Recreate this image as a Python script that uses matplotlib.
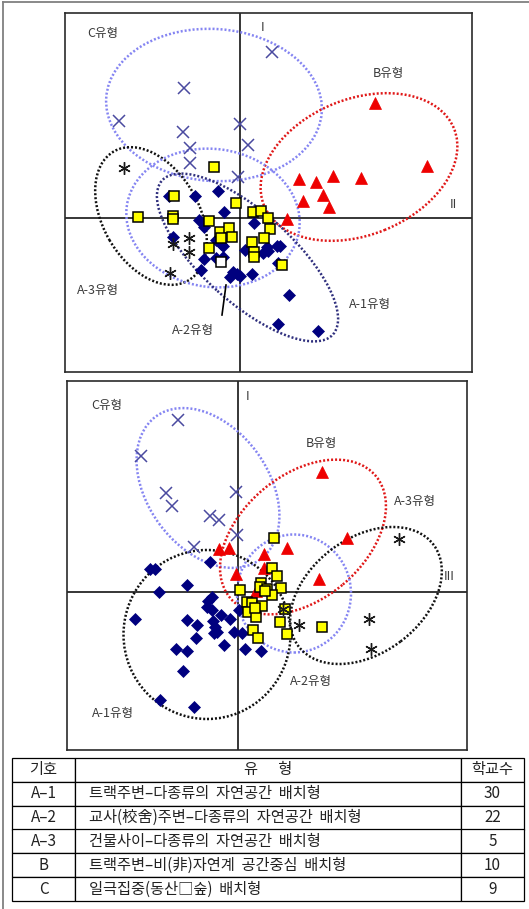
import matplotlib
matplotlib.use("Agg")
import matplotlib.pyplot as plt
from matplotlib.patches import Ellipse

plt.rcParams['font.family'] = ['Noto Sans CJK KR', 'DejaVu Sans']

# ---------- panel 1 : axis I - II ----------
p1_a1_x = [-0.71, -0.45, -0.22, -0.16, -0.41, -0.36, 0.14, -0.67, -0.24, -0.17,
           0.05, 0.27, 0.37, 0.40, 0.23, -0.36, -0.24, -0.17, -0.39, -0.07,
           -0.10, -0.03, 0.12, 0.38, 0.49, 0.38, 0.78, 0.28, -0.19, 0.00]
p1_a1_y = [0.22, 0.22, 0.27, 0.06, -0.02, -0.09, -0.05, -0.19, -0.22, -0.28,
           -0.32, -0.29, -0.28, -0.28, -0.35, -0.41, -0.40, -0.39, -0.52, -0.54,
           -0.59, -0.56, -0.56, -0.45, -0.77, -1.06, -1.13, -0.33, -0.26, -0.58]
p1_a2_x = [-0.26, -0.66, -0.04, -1.02, -0.67, -0.67, -0.31, 0.13, 0.21, 0.28, 0.30,
           -0.20, -0.11, -0.19, -0.08, 0.12, 0.24, 0.14, 0.14, -0.31, 0.42, -0.19]
p1_a2_y = [0.51, 0.22, 0.15, 0.01, 0.02, -0.01, -0.03, 0.06, 0.07, 0.00, -0.11,
           -0.14, -0.10, -0.20, -0.19, -0.24, -0.20, -0.34, -0.39, -0.30, -0.47, -0.44]
p1_a3_x = [-1.16, -0.51, -0.67, -0.51, -0.70]
p1_a3_y = [0.50, -0.20, -0.26, -0.34, -0.55]
p1_b_x = [1.35, 1.87, 0.59, 0.76, 0.93, 1.21, 0.63, 0.83, 0.89, 0.47]
p1_b_y = [1.15, 0.52, 0.39, 0.36, 0.42, 0.40, 0.17, 0.23, 0.11, -0.01]
p1_c_x = [0.32, -0.56, -1.21, -0.57, 0.00, -0.50, 0.08, -0.50, -0.02]
p1_c_y = [1.66, 1.30, 0.97, 0.86, 0.94, 0.70, 0.73, 0.55, 0.41]

# group ellipses: centre x, centre y, width, height, angle
p1_ellipses = {
    'C': (-0.26, 1.13, 2.16, 1.52, -4),
    'B': (1.19, 0.51, 2.05, 1.36, 22),
    'A-3': (-0.89, 0.02, 1.49, 0.96, -60),
    'A-2': (-0.27, 0.00, 1.74, 1.38, -8),
    'A-1': (0.075, -0.395, 2.30, 0.90, -42),
}
p1_labels = [('C유형', -1.37, 1.85), ('B유형', 1.48, 1.45), ('A-3유형', -1.42, -0.72),
             ('A-1유형', 1.30, -0.86), ('A-2유형', -0.47, -1.12),
             ('I', 0.23, 1.91), ('II', 2.13, 0.14)]

# ---------- panel 2 : axis I - III ----------
p2_a1_x = [-0.88, -0.83, -0.28, -0.51, -0.79, -0.26, -0.30, -0.26, -0.17, -0.08,
           -1.03, -0.51, -0.25, -0.41, -0.23, -0.24, -0.04, 0.04, -0.42, -0.14,
           -0.62, -0.51, 0.07, 0.23, -0.55, -0.78, -0.44, 0.01, -0.31, -0.21]
p2_a1_y = [0.23, 0.23, 0.30, 0.07, 0.00, -0.05, -0.09, -0.18, -0.23, -0.27,
           -0.27, -0.28, -0.29, -0.33, -0.35, -0.41, -0.40, -0.41, -0.46, -0.53,
           -0.57, -0.59, -0.57, -0.59, -0.79, -1.08, -1.15, -0.18, -0.15, -0.40]
p2_a2_x = [0.36, 0.34, 0.39, 0.02, 0.23, 0.22, 0.29, 0.43, 0.34, 0.09, 0.14,
           0.24, 0.10, 0.18, 0.47, 0.42, 0.15, 0.20, 0.49, 0.84, 0.17, 0.27]
p2_a2_y = [0.54, 0.24, 0.16, 0.02, 0.09, 0.05, 0.03, 0.04, -0.03, -0.10, -0.11,
           -0.14, -0.20, -0.25, -0.17, -0.30, -0.38, -0.46, -0.42, -0.35, -0.16, 0.01]
p2_a3_x = [1.61, 1.31, 1.33, 0.61, 0.45]
p2_a3_y = [0.53, -0.27, -0.57, -0.33, -0.17]
p2_b_x = [0.84, 1.09, -0.19, -0.09, 0.49, 0.26, 0.26, -0.02, 0.81, 0.18]
p2_b_y = [1.20, 0.54, 0.43, 0.44, 0.44, 0.38, 0.24, 0.18, 0.13, 0.01]
p2_c_x = [-0.60, -0.97, -0.72, -0.66, -0.02, -0.28, -0.19, -0.01, -0.44]
p2_c_y = [1.72, 1.36, 0.99, 0.86, 1.00, 0.76, 0.72, 0.57, 0.45]

p2_ellipses = {
    'C': (-0.30, 1.04, 1.77, 1.21, -54),
    'B': (0.65, 0.55, 1.90, 1.24, 40),
    'A-2': (0.56, -0.015, 1.14, 1.18, 0),
    'A-3': (1.28, -0.035, 1.69, 1.15, 37),
    'A-1': (-0.31, -0.425, 1.67, 1.69, 0),
}
p2_labels = [('C유형', -1.31, 1.87), ('I', 0.10, 1.96), ('B유형', 0.83, 1.49),
             ('A-3유형', 1.77, 0.90), ('III', 2.11, 0.15), ('A-2유형', 0.73, -0.89),
             ('A-1유형', -1.25, -1.21)]

# ---------- table ----------
tbl_head = ['기호', '유      형', '학교수']
tbl_code = ['A–1', 'A–2', 'A–3', 'B', 'C']
tbl_type = ['트랙주변–다종류의  자연공간  배치형',
            '교사(校舍)주변–다종류의  자연공간  배치형',
            '건물사이–다종류의  자연공간  배치형',
            '트랙주변–비(非)자연계  공간중심  배치형',
            '일극집중(동산□숲)  배치형']
tbl_count = [30, 22, 5, 10, 9]

marker_style = {
    'A-1': dict(marker='D', ms=6.5, mfc='#00007f', mec='#00007f', mew=0.5),
    'A-2': dict(marker='s', ms=7.5, mfc='#ffff00', mec='black', mew=1.1),
    'A-3': dict(marker=(6, 2, 0), ms=9, mfc='black', mec='#1a1a1a', mew=1.0),
    'B': dict(marker='^', ms=8.5, mfc='#ee0000', mec='#ee0000', mew=0.5),
    'C': dict(marker='x', ms=8, mfc='#4a4aa0', mec='#4a4aa0', mew=1.1),
}
LIGHT = '#8585f2'
p1_ell_color = {'C': LIGHT, 'B': '#e01818', 'A-3': '#111111', 'A-2': LIGHT, 'A-1': '#30307e'}
p2_ell_color = {'C': LIGHT, 'B': '#e01818', 'A-3': '#111111', 'A-2': LIGHT, 'A-1': '#111111'}

W, H = 529, 909
fig = plt.figure(figsize=(W / 100, H / 100), dpi=100)

# page frame and table live on a full-figure axes
bg = fig.add_axes([0, 0, 1, 1])
bg.set_xlim(0, W)
bg.set_ylim(H, 0)
bg.axis('off')
bg.plot([3, W], [2, 2], color='#808080', lw=1.3)
bg.plot([3, 3], [2, H], color='#808080', lw=1.3)


def draw_panel(rect, xlim, ylim, groups, ellipses, colors, labels, white_sq=None):
    ax = fig.add_axes(rect)
    ax.set_xlim(*xlim)
    ax.set_ylim(*ylim)
    ax.set_xticks([])
    ax.set_yticks([])
    for s in ax.spines.values():
        s.set_color('#2a2a2a')
        s.set_linewidth(1.2)
    ax.axhline(0, color='black', lw=1.1, zorder=1)
    ax.axvline(0, color='black', lw=1.1, zorder=1)
    for key, (cx, cy, w, h, ang) in ellipses.items():
        ax.add_patch(Ellipse((cx, cy), w, h, angle=ang, fill=False,
                             edgecolor=colors[key], lw=1.8,
                             linestyle=(0, (0.8, 0.8)), zorder=2))
    for key, (xs, ys) in groups.items():
        ax.plot(xs, ys, ls='none', zorder=3, **marker_style[key])
    if white_sq is not None:
        st = dict(marker_style['A-2'])
        st['mfc'] = 'white'
        ax.plot([white_sq[0]], [white_sq[1]], ls='none', zorder=4, **st)
    for txt, x, y in labels:
        ax.text(x, y, txt, fontsize=9, color='#3a3a3a', ha='center', va='center')
    return ax


ax1 = draw_panel([65 / W, 1 - 372 / H, 407 / W, 359 / H], (-1.75, 2.32), (-1.54, 2.05),
                 {'C': (p1_c_x, p1_c_y), 'B': (p1_b_x, p1_b_y), 'A-1': (p1_a1_x, p1_a1_y),
                  'A-3': (p1_a3_x, p1_a3_y), 'A-2': (p1_a2_x[:-1], p1_a2_y[:-1])},
                 p1_ellipses, p1_ell_color, p1_labels,
                 white_sq=(p1_a2_x[-1], p1_a2_y[-1]))
# leader line for the A-2 label
ax1.plot([-0.14, -0.18], [-0.67, -0.97], color='black', lw=1.2)

ax2 = draw_panel([67 / W, 1 - 750 / H, 400 / W, 369 / H], (-1.71, 2.29), (-1.58, 2.11),
                 {'C': (p2_c_x, p2_c_y), 'A-1': (p2_a1_x, p2_a1_y), 'B': (p2_b_x, p2_b_y),
                  'A-2': (p2_a2_x, p2_a2_y), 'A-3': (p2_a3_x, p2_a3_y)},
                 p2_ellipses, p2_ell_color, p2_labels)

# summary table
cells = [[c, t, str(n)] for c, t, n in zip(tbl_code, tbl_type, tbl_count)]
tx0, tx1, ty0, ty1 = 12, 524, 758, 901
table = bg.table(cellText=cells, colLabels=tbl_head, cellLoc='center',
                 colWidths=[63, 386, 63],
                 bbox=[tx0 / W, 1 - ty1 / H, (tx1 - tx0) / W, (ty1 - ty0) / H])
table.auto_set_font_size(False)
table.set_fontsize(11)
for (r, c), cell in table.get_celld().items():
    cell.set_edgecolor('black')
    cell.set_linewidth(0.9)
    cell.set_text_props(color='#222222', family=['Noto Sans CJK KR', 'DejaVu Sans'])
    if c == 1 and r > 0:
        cell._loc = 'left'
        cell.PAD = 0.035
        cell.get_text().set_ha('left')

fig.savefig('out.png', dpi=100)
